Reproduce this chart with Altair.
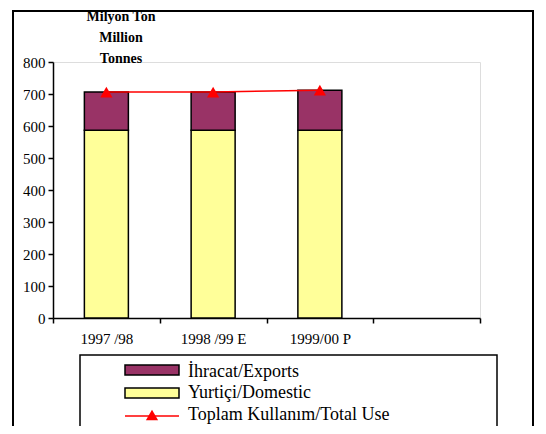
import altair as alt
import pandas as pd

# ---- data ----
categories = ["1997 /98", "1998 /99 E", "1999/00 P", ""]
years = ["1997 /98", "1998 /99 E", "1999/00 P"]
domestic = [587, 587, 587]
exports = [119, 119, 125]
total_use = [706, 706, 712]
series_names = ["İhracat/Exports", "Yurtiçi/Domestic"]
series_colors = ["#993366", "#FFFF99"]
line_name = "Toplam Kullanım/Total Use"
y_ticks = [0, 100, 200, 300, 400, 500, 600, 700, 800]
title_lines = ["Milyon Ton", "Million", "Tonnes"]

FONT = "Liberation Serif"
W, H = 427, 256

rows = []
for c, d, e in zip(years, domestic, exports):
    rows.append({"cat": c, "series": series_names[1], "value": d, "ord": 0})
    rows.append({"cat": c, "series": series_names[0], "value": e, "ord": 1})
bars_df = pd.DataFrame(rows)
line_df = pd.DataFrame({"cat": years, "total": total_use})
one = pd.DataFrame({"a": [0]})

x_scale = alt.Scale(domain=categories, paddingInner=0, paddingOuter=0)
x_axis = alt.Axis(title=None, labelAngle=0, tickBand="extent", tickSize=5,
                  labelPadding=8, labelFontSize=15, labelFont=FONT,
                  labelColor="black", domainColor="black", tickColor="black",
                  domainWidth=1.5, tickWidth=1.5, labelOverlap=False)
y_scale = alt.Scale(domain=[0, 800], nice=False)
y_axis = alt.Axis(title=None, values=y_ticks, grid=False, tickSize=5,
                  labelPadding=3, labelFontSize=15, labelFont=FONT,
                  labelColor="black", domainColor="black", tickColor="black",
                  domainWidth=1.5, tickWidth=1.5, labelOverlap=False)

bars = alt.Chart(bars_df).mark_bar(width=44, stroke="black", strokeWidth=1.5).encode(
    x=alt.X("cat:N", scale=x_scale, axis=x_axis),
    y=alt.Y("value:Q", stack="zero", scale=y_scale, axis=y_axis),
    color=alt.Color("series:N", scale=alt.Scale(domain=series_names, range=series_colors), legend=None),
    order=alt.Order("ord:Q"),
)

line = alt.Chart(line_df).mark_line(color="red", strokeWidth=1.5).encode(
    x=alt.X("cat:N", scale=x_scale, axis=x_axis),
    y=alt.Y("total:Q", scale=y_scale, axis=y_axis),
)
pts = alt.Chart(line_df).mark_point(shape="triangle-up", filled=True, color="red", size=150, opacity=1).encode(
    x=alt.X("cat:N", scale=x_scale, axis=x_axis),
    y=alt.Y("total:Q", scale=y_scale, axis=y_axis),
)

# outer frame (left, right, top edges)
fl = alt.Chart(one).mark_rule(color="black", strokeWidth=2).encode(
    x=alt.value(-40), y=alt.value(-51), y2=alt.value(420))
fr = alt.Chart(one).mark_rule(color="black", strokeWidth=2).encode(
    x=alt.value(480), y=alt.value(-51), y2=alt.value(420))
ft = alt.Chart(one).mark_rule(color="black", strokeWidth=2).encode(
    x=alt.value(-41), x2=alt.value(481), y=alt.value(-51))

# unit title
title = alt.Chart(one).mark_text(text=title_lines, font=FONT, fontSize=14, fontWeight="bold",
                                 align="center", baseline="middle", lineHeight=21).encode(
    x=alt.value(68), y=alt.value(-45)
)

# legend
leg_box = alt.Chart(one).mark_rect(fill="white", stroke="black", strokeWidth=1.5).encode(
    x=alt.value(27), x2=alt.value(444), y=alt.value(293), y2=alt.value(370)
)
sw1 = alt.Chart(one).mark_rect(fill=series_colors[0], stroke="black", strokeWidth=1.5).encode(
    x=alt.value(72), x2=alt.value(126), y=alt.value(303), y2=alt.value(313)
)
sw2 = alt.Chart(one).mark_rect(fill=series_colors[1], stroke="black", strokeWidth=1.5).encode(
    x=alt.value(72), x2=alt.value(126), y=alt.value(326), y2=alt.value(336)
)
leg_line = alt.Chart(one).mark_rule(color="red", strokeWidth=1.5).encode(
    x=alt.value(72), x2=alt.value(126), y=alt.value(354)
)
leg_tri = alt.Chart(one).mark_point(shape="triangle-up", filled=True, color="red", size=150, opacity=1).encode(
    x=alt.value(99), y=alt.value(353)
)


def leg_text(txt, y):
    return alt.Chart(one).mark_text(text=txt, font=FONT, fontSize=18, align="left",
                                    baseline="middle", color="black").encode(
        x=alt.value(135), y=alt.value(y)
    )


texts = [leg_text(series_names[0], 310), leg_text(series_names[1], 331), leg_text(line_name, 353)]

chart = alt.layer(
    fl, fr, ft, bars, line, pts, title, leg_box, sw1, sw2, leg_line, leg_tri, *texts
).properties(
    width=W, height=H,
    autosize=alt.AutoSizeParams(type="none"),
    padding={"left": 45, "top": 54, "right": 58, "bottom": 108},
).configure_view(
    stroke="#808080", strokeWidth=1.5
).configure(background="white")

chart.save("out.html", embed_options={"renderer": "svg", "actions": False})
